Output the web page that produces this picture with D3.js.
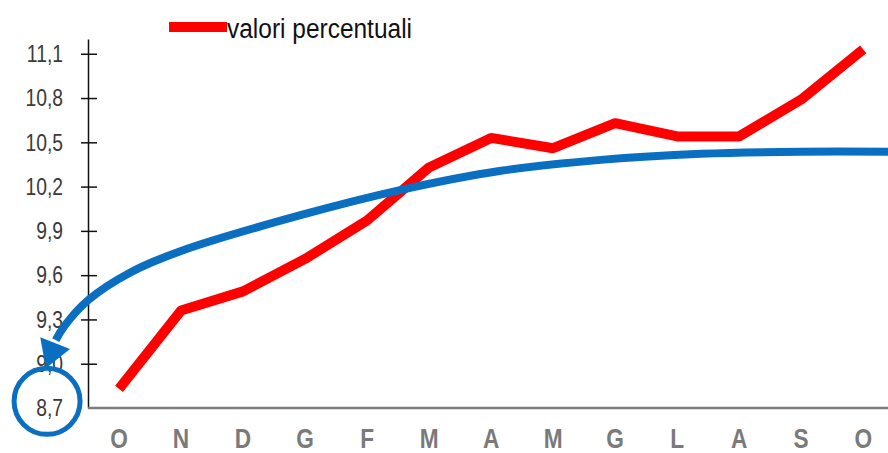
<!DOCTYPE html>
<html>
<head>
<meta charset="utf-8">
<script src="https://cdn.jsdelivr.net/npm/d3@7"></script>
<style>
  body { margin: 0; background: #fff; }
  svg { display: block; }
  text { font-family: "Liberation Sans", Arial, sans-serif; }
</style>
</head>
<body>
<div id="chart"></div>
<script>
var months = ['O', 'N', 'D', 'G', 'F', 'M', 'A', 'M', 'G', 'L', 'A', 'S', 'O'];
var percentValues = [8.83, 9.36, 9.49, 9.71, 9.97, 10.33, 10.53, 10.46, 10.63, 10.54, 10.54, 10.79, 11.13];
var yTicks = [8.7, 9.0, 9.3, 9.6, 9.9, 10.2, 10.5, 10.8, 11.1];
var yTickLabels = ['8,7', '9,0', '9,3', '9,6', '9,9', '10,2', '10,5', '10,8', '11,1'];
var seriesName = 'valori percentuali';

// hand drawn trend arrow, in chart units (month index, value)
var trendIdx = [-1.02, -0.89, -0.5, 0.19, 1.0, 2.94, 4.55, 6.16, 7.77, 9.39, 11.0, 12.42];
var trendVal = [9.16, 9.25, 9.43, 9.62, 9.764, 10.008, 10.178, 10.307, 10.381, 10.422, 10.436, 10.436];
var arrowIdx = [-1.27, -0.79, -1.18];
var arrowVal = [9.18, 9.10, 8.97];

var width = 888, height = 453;
var squeeze = 'scale(0.84,1)'; // narrow look of the original font

var svg = d3.select('#chart').append('svg')
  .attr('width', width)
  .attr('height', height);

var x = d3.scaleLinear().domain([-0.5, 12.4]).range([88, 888]);
var y = d3.scaleLinear().domain([8.7, 11.2]).range([408, 39]);

// y axis, ticks cross the line, labels drawn apart so they can be squeezed
var yAxis = svg.append('g')
  .attr('transform', 'translate(88,0)')
  .call(d3.axisLeft(y).tickValues(yTicks).tickSizeOuter(0).tickFormat(''));
yAxis.select('.domain').attr('stroke', '#111').attr('stroke-width', 1.5);
yAxis.selectAll('.tick line')
  .attr('x1', -7).attr('x2', 9)
  .attr('stroke', '#111').attr('stroke-width', 1.5)
  .attr('display', function (d) { return d === 8.7 ? 'none' : null; });

svg.append('g').selectAll('text')
  .data(yTicks)
  .join('text')
  .attr('transform', function (d) { return 'translate(63,' + y(d) + ') ' + squeeze; })
  .attr('dy', '0.36em')
  .attr('text-anchor', 'end')
  .attr('fill', '#3a3a3a')
  .style('font-size', '23px')
  .text(function (d, i) { return yTickLabels[i]; });

// x axis
svg.append('line')
  .attr('x1', x(-0.5)).attr('x2', width)
  .attr('y1', y(8.7)).attr('y2', y(8.7))
  .attr('stroke', '#7d7d7d')
  .attr('stroke-width', 2.5);

svg.append('g').selectAll('text')
  .data(months)
  .join('text')
  .attr('transform', function (d, i) { return 'translate(' + x(i) + ',448) ' + squeeze; })
  .attr('text-anchor', 'middle')
  .attr('fill', '#7a7a7a')
  .style('font-size', '27px')
  .style('font-weight', 'bold')
  .text(function (d) { return d; });

// red series
var line = d3.line()
  .x(function (d, i) { return x(i); })
  .y(function (d) { return y(d); });

svg.append('path')
  .datum(percentValues)
  .attr('d', line)
  .attr('fill', 'none')
  .attr('stroke', '#f00')
  .attr('stroke-width', 10)
  .attr('stroke-linejoin', 'round');

// legend
svg.append('rect')
  .attr('x', 169).attr('y', 22)
  .attr('width', 58).attr('height', 10)
  .attr('fill', '#f00');
svg.append('text')
  .attr('x', 227).attr('y', 38)
  .attr('fill', '#111')
  .attr('textLength', 185)
  .attr('lengthAdjust', 'spacingAndGlyphs')
  .style('font-size', '27px')
  .text(seriesName);

// blue trend curve + arrow head + circle around 8,7
var trend = d3.line()
  .x(function (d) { return x(d[0]); })
  .y(function (d) { return y(d[1]); })
  .curve(d3.curveCatmullRom.alpha(0.5));

svg.append('path')
  .datum(d3.zip(trendIdx, trendVal))
  .attr('d', trend)
  .attr('fill', 'none')
  .attr('stroke', '#0a6fc0')
  .attr('stroke-width', 8);

svg.append('path')
  .datum(d3.zip(arrowIdx, arrowVal))
  .attr('d', d3.line().x(function (d) { return x(d[0]); }).y(function (d) { return y(d[1]); }))
  .attr('fill', '#0a6fc0');

svg.append('circle')
  .attr('cx', x(-1.16))
  .attr('cy', y(8.745))
  .attr('r', 33)
  .attr('fill', 'none')
  .attr('stroke', '#0a6fc0')
  .attr('stroke-width', 5);
</script>
</body>
</html>
